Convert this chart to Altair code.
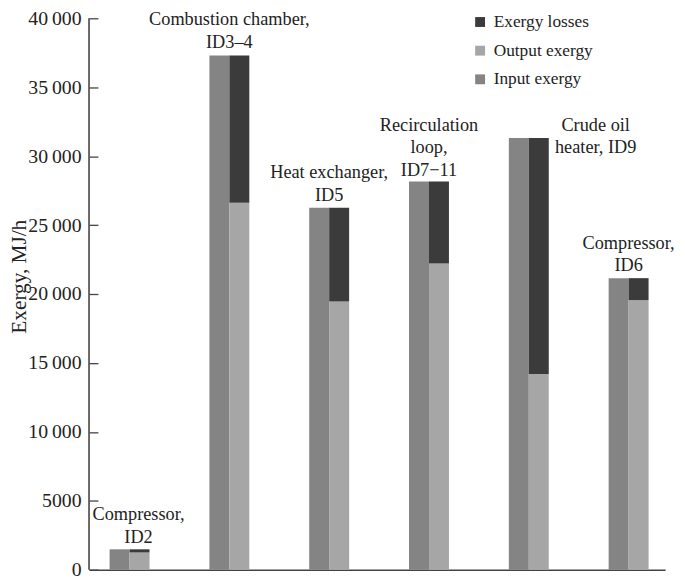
import altair as alt
import pandas as pd

# ---- data ----
groups = ["Compressor, ID2", "Combustion chamber, ID3–4", "Heat exchanger, ID5",
          "Recirculation loop, ID7−11", "Crude oil heater, ID9", "Compressor, ID6"]
input_exergy = [1480, 37300, 26250, 28170, 31310, 21150]
output_exergy = [1250, 26620, 19460, 22210, 14190, 19550]

series_names = ["Exergy losses", "Output exergy", "Input exergy"]
series_colors = ["#3b3b3b", "#a6a6a6", "#848484"]

label_text = ["Compressor,\nID2", "Combustion chamber,\nID3–4", "Heat exchanger,\nID5",
              "Recirculation\nloop,\nID7−11", "Crude oil\nheater, ID9", "Compressor,\nID6"]
label_x = [1.09, 2.0, 3.0, 4.0, 5.67, 6.0]
label_y = [3570, 39480, 28410, 31860, 31860, 23290]

y_ticks = [0, 5000, 10000, 15000, 20000, 25000, 30000, 35000, 40000]

# ---- build tables ----
BAR_W = 0.2
rows = []
for i, g in enumerate(groups):
    pos = i + 1
    rows.append(dict(group=g, series="Input exergy", x=pos - BAR_W, x2=pos,
                     y=0, y2=input_exergy[i]))
    rows.append(dict(group=g, series="Output exergy", x=pos, x2=pos + BAR_W,
                     y=0, y2=output_exergy[i]))
    rows.append(dict(group=g, series="Exergy losses", x=pos, x2=pos + BAR_W,
                     y=output_exergy[i], y2=input_exergy[i]))
bars_df = pd.DataFrame(rows)
labels_df = pd.DataFrame({"label": label_text, "lx": label_x, "ly": label_y})

FONT = "Liberation Serif"
AX = "#444444"
TXT = "#222222"

xscale = alt.Scale(domain=[0.594, 6.366], nice=False, zero=False)
yscale = alt.Scale(domain=[0, 40000], nice=False, zero=True)

xaxis = alt.Axis(title=None, labels=False, ticks=False, grid=False,
                 domainColor=AX, domainWidth=1.6)
yaxis = alt.Axis(title="Exergy, MJ/h", values=y_ticks, grid=False, domain=False,
                 tickSize=9, offset=-9, tickColor=AX, tickWidth=1.3,
                 labelPadding=8, labelFont=FONT, labelFontSize=20, labelColor=TXT,
                 labelExpr="datum.value >= 10000 ? replace(format(datum.value, ','), ',', '\u2009') : format(datum.value, 'd')",
                 titleFont=FONT, titleFontSize=21.5, titleFontWeight="normal",
                 titleColor=TXT, titleAngle=270, titleAlign="center",
                 titleBaseline="alphabetic", titleX=-73, titleY=261)

bars = alt.Chart(bars_df).mark_bar().encode(
    x=alt.X("x:Q", scale=xscale, axis=xaxis),
    x2="x2:Q",
    y=alt.Y("y:Q", scale=yscale, axis=yaxis),
    y2="y2:Q",
    color=alt.Color("series:N",
                    scale=alt.Scale(domain=series_names, range=series_colors),
                    legend=alt.Legend(orient="none", legendX=387, legendY=-5,
                                      title=None, symbolType="square",
                                      symbolSize=100, symbolStrokeWidth=0,
                                      labelFont=FONT, labelFontSize=17.5,
                                      labelColor=TXT, rowPadding=10,
                                      labelOffset=5, padding=0)),
)

ydomain = alt.Chart(pd.DataFrame({"v": [0]})).mark_rule(
    color=AX, strokeWidth=1.6
).encode(
    x=alt.value(0),
    y=alt.datum(0, scale=yscale),
    y2=alt.datum(40000),
)

labels = alt.Chart(labels_df).mark_text(
    lineBreak="\n", font=FONT, fontSize=18.5, lineHeight=23,
    align="center", baseline="alphabetic", color=TXT
).encode(
    x=alt.X("lx:Q", scale=xscale, axis=xaxis),
    y=alt.Y("ly:Q", scale=yscale, axis=yaxis),
    text="label:N",
)

chart = alt.layer(bars, ydomain, labels).properties(
    width=583, height=558,
    autosize=alt.AutoSizeParams(type="none"),
    padding={"left": 82, "top": 7, "right": 12, "bottom": 8},
    background="white",
).configure_view(stroke=None)

chart.save("out.html", embed_options={"renderer": "svg", "actions": False})
